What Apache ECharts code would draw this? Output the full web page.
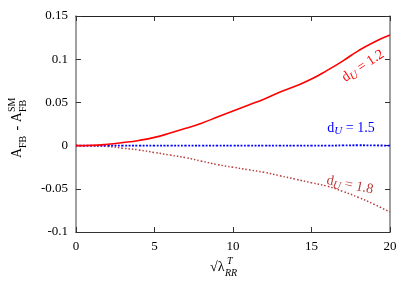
<!DOCTYPE html>
<html><head><meta charset="utf-8">
<script src="https://cdn.jsdelivr.net/npm/echarts@6/dist/echarts.min.js"></script>
<style>html,body{margin:0;padding:0;background:#fff}#c{width:415px;height:291px}</style>
</head><body><div id="c"></div>
<script>
var xs = [0,1,2,3,4,5,6,7,8,9,10,11,12,13,14,15,16,17,18,19,20];
var dU12 = [0,0.0003,0.0015,0.0035,0.006,0.0095,0.0145,0.020,0.026,0.033,0.040,0.047,0.054,0.062,0.069,0.077,0.087,0.098,0.110,0.120,0.128];
var dU15 = [0,0,0,0,0,0,0,0,0,0,0,0,0,0,0,0,0,0.0002,0.0004,0.0002,0];
var dU18 = [0,-0.0003,-0.001,-0.003,-0.005,-0.008,-0.011,-0.014,-0.018,-0.022,-0.025,-0.028,-0.031,-0.035,-0.039,-0.043,-0.047,-0.053,-0.060,-0.068,-0.077];

function pairs(ys){return xs.map(function(x,i){return [x,ys[i]];});}
var F = '"Liberation Serif","DejaVu Serif",serif';
var chart = echarts.init(document.getElementById('c'));
function aLine(c,w){return {show:true,onZero:false,lineStyle:{color:c,width:w}};}
var tick = {inside:true,length:5,lineStyle:{color:'#333'}};
function lbl(color){
  return {d:{fontFamily:F,fontSize:14,fill:color,color:color},
          s:{fontFamily:F,fontSize:11,fontStyle:'italic',fill:color,color:color,padding:[7,0,0,0]}};
}
chart.setOption({
  animation:false,
  grid:{left:76,right:25,top:16,bottom:59},
  xAxis:[{type:'value',min:0,max:20,interval:5,axisLine:aLine('#333',1.2),
    axisTick:tick,splitLine:{show:false},
    axisLabel:{fontFamily:F,fontSize:13,color:'#000',margin:8}},
    {type:'value',position:'top',min:0,max:20,interval:5,axisLine:aLine('#222',1.2),
    axisTick:tick,axisLabel:{show:false},splitLine:{show:false}}],
  yAxis:[{type:'value',min:-0.1,max:0.15,interval:0.05,axisLine:aLine('#888',1.6),
    axisTick:tick,splitLine:{show:false},
    axisLabel:{fontFamily:F,fontSize:13,color:'#000',margin:8,formatter:function(v){return String(Math.round(v*100)/100);}}},
    {type:'value',position:'right',min:-0.1,max:0.15,interval:0.05,axisLine:aLine('#888',1.6),
    axisTick:tick,axisLabel:{show:false},splitLine:{show:false}}],
  series:[
    {type:'line',data:pairs(dU18),showSymbol:false,smooth:true,lineStyle:{color:'#b83a3a',width:1.5,type:[1.5,2]},z:2},
    {type:'line',data:pairs(dU15),showSymbol:false,smooth:true,lineStyle:{color:'#0000ff',width:1.8,type:[2,1.5]},z:3},
    {type:'line',data:pairs(dU12),showSymbol:false,smooth:true,lineStyle:{color:'#ff0000',width:1.6},z:4}
  ],
  graphic:[
    {type:'text',x:363,y:66,rotation:0.58,z:10,style:{text:'{d|d}{s|U}{d| = 1.2}',rich:lbl('#ff0000'),align:'center',verticalAlign:'middle'}},
    {type:'text',x:351,y:128,z:10,style:{text:'{d|d}{s|U}{d| = 1.5}',rich:lbl('#0000ff'),align:'center',verticalAlign:'middle'}},
    {type:'text',x:350,y:185,rotation:-0.21,z:10,style:{text:'{d|d}{s|U}{d| = 1.8}',rich:lbl('#b83a3a'),align:'center',verticalAlign:'middle'}},
    {type:'group',x:24,y:158,rotation:Math.PI/2,children:[
      {type:'text',x:0,y:0,style:{text:'A',fontFamily:F,fontSize:14,fill:'#000',verticalAlign:'bottom'}},
      {type:'text',x:10,y:4,style:{text:'FB',fontFamily:F,fontSize:10,fill:'#000',verticalAlign:'bottom'}},
      {type:'text',x:24,y:0,style:{text:' - A',fontFamily:F,fontSize:14,fill:'#000',verticalAlign:'bottom'}},
      {type:'text',x:46,y:4,style:{text:'FB',fontFamily:F,fontSize:10,fill:'#000',verticalAlign:'bottom'}},
      {type:'text',x:46,y:-7,style:{text:'SM',fontFamily:F,fontSize:10,fill:'#000',verticalAlign:'bottom'}}
    ]},
    {type:'group',x:210,y:274,children:[
      {type:'text',x:0,y:0,style:{text:'√λ',fontFamily:F,fontSize:14,fill:'#000',verticalAlign:'bottom'}},
      {type:'text',x:15,y:4,style:{text:'RR',fontFamily:F,fontSize:10,fontStyle:'italic',fill:'#000',verticalAlign:'bottom'}},
      {type:'text',x:17,y:-8,style:{text:'T',fontFamily:F,fontSize:10,fontStyle:'italic',fill:'#000',verticalAlign:'bottom'}}
    ]}
  ]
});
</script></body></html>
